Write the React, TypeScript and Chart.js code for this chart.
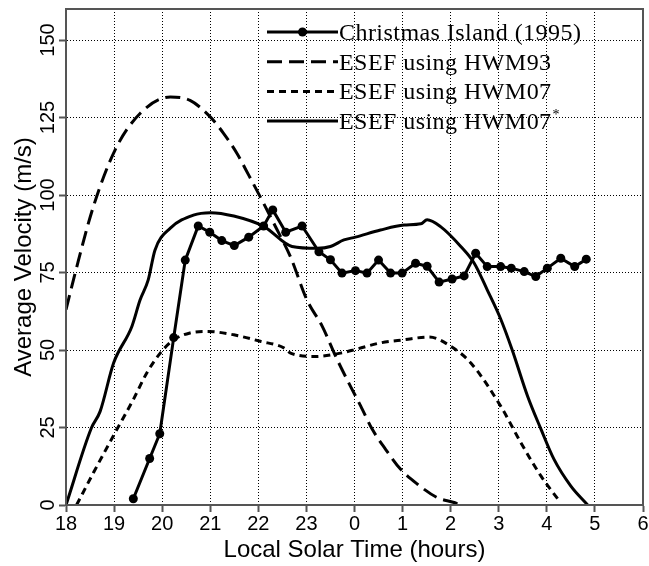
import React, { useEffect, useRef } from 'react';
import { Chart, registerables } from 'chart.js';

Chart.register(...registerables);

// Christmas Island (1995) observations
const ciHours = [19.4, 19.74, 19.95, 20.24, 20.48, 20.75, 20.99, 21.24, 21.5, 21.8, 22.11, 22.3, 22.57, 22.91, 23.26, 23.5, 23.74, 24.02, 24.26, 24.5, 24.75, 24.99, 25.27, 25.51, 25.76, 26.03, 26.28, 26.52, 26.76, 27.04, 27.26, 27.53, 27.77, 28.01, 28.29, 28.58, 28.82];
const ciVel = [2, 15, 23, 54, 79, 90, 88, 85.3, 83.7, 86.4, 90, 95.2, 88, 90, 81.7, 79.1, 74.8, 75.6, 74.8, 79, 74.8, 74.8, 78, 77, 71.9, 72.9, 73.9, 81.2, 76.9, 76.9, 76.4, 75.3, 73.7, 76.4, 79.6, 76.9, 79.3];

// ESEF using HWM93
const h93Hours = [18.0, 18.19, 18.57, 19.02, 19.54, 20.17, 20.58, 21.0, 21.28, 21.56, 21.8, 22.04, 22.35, 22.67, 23.01, 23.33, 23.64, 23.88, 24.13, 24.37, 24.65, 24.96, 25.31, 25.72, 26.07, 26.2];
const h93Vel = [63, 74.8, 96.3, 114.5, 126.3, 131.6, 130.5, 125.2, 119.8, 113.3, 106.4, 99.4, 90, 80, 66.2, 57.6, 46.9, 39.4, 31.9, 24.4, 17.9, 11.5, 6.7, 2.4, 0.8, 0];

// ESEF using HWM07
const h07Hours = [18.22, 18.57, 19.02, 19.4, 19.68, 19.96, 20.24, 20.58, 20.93, 21.49, 22.04, 22.53, 22.67, 23.19, 23.71, 24.05, 24.54, 25.03, 25.55, 26.0, 26.42, 27.04, 27.46, 27.88, 28.26];
const h07Vel = [0, 10.4, 23.3, 34, 42.6, 49, 53.3, 55.5, 56, 54.9, 52.8, 50.7, 49, 47.9, 49, 50.3, 52.3, 53.3, 54.2, 51.2, 45.8, 31.9, 20.1, 9.3, 1.3];

// ESEF using HWM07*
const h07sHours = [18.0, 18.53, 18.71, 18.99, 19.37, 19.54, 19.71, 19.85, 20.17, 20.65, 21.0, 21.49, 22.12, 22.7, 23.23, 23.5, 23.78, 24.02, 24.54, 25.03, 25.38, 25.51, 25.79, 26.21, 26.49, 26.76, 27.04, 27.28, 27.6, 27.88, 28.15, 28.5, 28.85];
const h07sVel = [0, 24.9, 30.2, 45.8, 57.6, 66.1, 72.6, 82.2, 89.3, 93.5, 94.3, 93.2, 89.8, 83.4, 82.8, 83.4, 85.5, 86.4, 88.7, 90.3, 90.7, 92, 89.8, 83.4, 78, 69.4, 60, 50, 35.1, 24.4, 14.7, 6.1, 0];

const yTicks = [0, 25, 50, 75, 100, 125, 150];
const xTicks = [18, 19, 20, 21, 22, 23, 24, 25, 26, 27, 28, 29, 30];
const legendLabels = ['Christmas Island (1995)', 'ESEF using HWM93', 'ESEF using HWM07', 'ESEF using HWM07'];

const DASH93 = [15, 7];
const DASH07 = [7, 5];
const SANS = '"Liberation Sans", Arial, sans-serif';

const toPts = (xs: number[], ys: number[]) => xs.map((x, i) => ({ x, y: ys[i] }));

const framePlugin = {
  id: 'frameLegend',
  afterDraw(chart: any) {
    const { ctx, chartArea: a } = chart;
    ctx.save();
    ctx.strokeStyle = '#555';
    ctx.lineWidth = 2;
    ctx.setLineDash([]);
    ctx.strokeRect(a.left, a.top, a.right - a.left, a.bottom - a.top);

    // rotated y tick labels
    const ys = chart.scales.y;
    ctx.fillStyle = '#000';
    ctx.font = `20px ${SANS}`;
    ctx.textAlign = 'center';
    ctx.textBaseline = 'middle';
    yTicks.forEach((v) => {
      ctx.save();
      ctx.translate(a.left - 18, ys.getPixelForValue(v));
      ctx.rotate(-Math.PI / 2);
      ctx.fillText(String(v), 0, 0);
      ctx.restore();
    });

    // legend
    const x0 = a.left + 201;
    const len = 71;
    const styles = [
      { dash: [] as number[], marker: true },
      { dash: DASH93, marker: false },
      { dash: DASH07, marker: false },
      { dash: [] as number[], marker: false },
    ];
    const font = '24px "Liberation Serif", "Times New Roman", serif';
    ctx.font = font;
    try { (ctx as any).letterSpacing = '0.45px'; } catch (e) { /* ignore */ }
    ctx.textBaseline = 'alphabetic';
    ctx.textAlign = 'left';
    styles.forEach((s, i) => {
      const y = a.top + 23 + i * 29.7;
      ctx.strokeStyle = '#000';
      ctx.lineWidth = 3;
      ctx.setLineDash(s.dash);
      ctx.beginPath();
      ctx.moveTo(x0, y);
      ctx.lineTo(x0 + len, y);
      ctx.stroke();
      ctx.setLineDash([]);
      if (s.marker) {
        ctx.fillStyle = '#000';
        ctx.beginPath();
        ctx.arc(x0 + len / 2, y, 4.5, 0, Math.PI * 2);
        ctx.fill();
      }
      ctx.fillStyle = '#000';
      const tx = x0 + len + 1;
      ctx.fillText(legendLabels[i], tx, y + 8);
      if (i === 3) {
        const w = ctx.measureText(legendLabels[i]).width;
        ctx.font = '14px "Liberation Serif", "Times New Roman", serif';
        ctx.fillText('*', tx + w + 1, y - 2);
        ctx.font = font;
      }
    });
    ctx.restore();
  },
};

export default function App() {
  const ref = useRef<HTMLCanvasElement | null>(null);
  useEffect(() => {
    document.body.style.margin = '0';
    const canvas = ref.current;
    if (!canvas) return;
    const gridOpts = {
      color: '#000',
      lineWidth: 1,
      tickLength: 7,
      tickColor: '#555',
      tickWidth: 2,
      tickBorderDash: [],
    };
    const borderOpts = { display: true, color: '#555', width: 2, dash: [1, 2] };
    const chart = new Chart(canvas, {
      type: 'line',
      data: {
        datasets: [
          {
            label: legendLabels[0],
            data: toPts(ciHours, ciVel),
            borderColor: '#000',
            backgroundColor: '#000',
            borderWidth: 3,
            pointRadius: 4.5,
            pointBackgroundColor: '#000',
            pointBorderWidth: 0,
            tension: 0,
          },
          {
            label: legendLabels[1],
            data: toPts(h93Hours, h93Vel),
            borderColor: '#000',
            borderWidth: 3,
            borderDash: DASH93,
            pointRadius: 0,
            cubicInterpolationMode: 'monotone',
          },
          {
            label: legendLabels[2],
            data: toPts(h07Hours, h07Vel),
            borderColor: '#000',
            borderWidth: 3,
            borderDash: DASH07,
            pointRadius: 0,
            cubicInterpolationMode: 'monotone',
          },
          {
            label: legendLabels[3] + '*',
            data: toPts(h07sHours, h07sVel),
            borderColor: '#000',
            borderWidth: 3,
            pointRadius: 0,
            cubicInterpolationMode: 'monotone',
          },
        ],
      },
      options: {
        animation: false,
        responsive: true,
        maintainAspectRatio: false,
        layout: { padding: { top: 9, right: 6, left: 0, bottom: 0 } },
        plugins: { legend: { display: false }, tooltip: { enabled: false } },
        scales: {
          x: {
            type: 'linear',
            min: 18,
            max: 30,
            afterBuildTicks: (s: any) => { s.ticks = xTicks.map((v) => ({ value: v })); },
            afterFit: (s: any) => { s.height = 61; s.paddingLeft = 0; s.paddingRight = 0; },
            ticks: {
              color: '#000',
              padding: 0,
              maxRotation: 0,
              font: { family: SANS, size: 20 },
              callback: (v: any) => String(Number(v) % 24),
            },
            grid: gridOpts,
            border: borderOpts,
            title: {
              display: true,
              text: 'Local Solar Time (hours)',
              color: '#000',
              font: { family: SANS, size: 24 },
              padding: { top: 0, bottom: 1 },
            },
          },
          y: {
            min: 0,
            max: 160,
            afterBuildTicks: (s: any) => { s.ticks = yTicks.map((v) => ({ value: v })); },
            afterFit: (s: any) => { s.width = 66; s.paddingTop = 0; s.paddingBottom = 0; },
            ticks: { display: false },
            grid: gridOpts,
            border: borderOpts,
            title: {
              display: true,
              text: 'Average Velocity (m/s)',
              color: '#000',
              font: { family: SANS, size: 24 },
              padding: { top: 10, bottom: 0 },
            },
          },
        },
      },
      plugins: [framePlugin],
    } as any);
    return () => chart.destroy();
  }, []);
  return (
    <div style={{ position: 'relative', width: 649, height: 566 }}>
      <canvas ref={ref} />
    </div>
  );
}
